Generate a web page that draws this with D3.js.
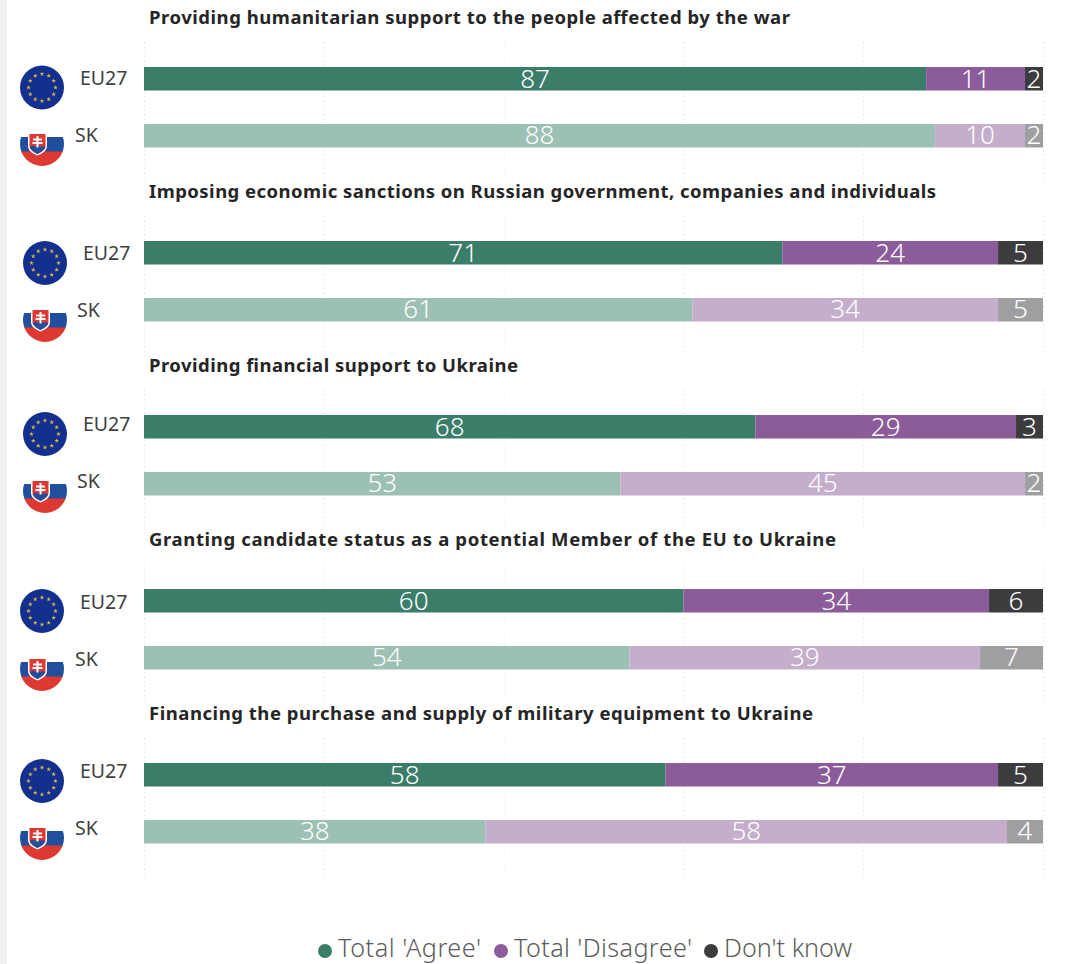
<!DOCTYPE html>
<html>
<head>
<meta charset="utf-8">
<script src="https://cdnjs.cloudflare.com/ajax/libs/d3/7.8.5/d3.min.js"></script>
<style>
html,body{margin:0;padding:0;background:#fff}
svg{display:block}
.title{font-family:"Noto Sans",sans-serif;font-weight:700;font-size:18.5px;fill:#252525}
.geo{font-family:"Noto Sans",sans-serif;font-size:19.5px;fill:#404040}
.val{font-family:"Noto Sans",sans-serif;font-weight:300;font-size:26px;text-anchor:middle;fill:#fff}
.leg{font-family:"Noto Sans",sans-serif;font-weight:300;font-size:25.2px;fill:#5c5c5c}
</style>
</head>
<body>
<svg id="chart" width="1068" height="964"></svg>
<script>
// Survey questions and results, in percent
const questions = [
  "Providing humanitarian support to the people affected by the war",
  "Imposing economic sanctions on Russian government, companies and individuals",
  "Providing financial support to Ukraine",
  "Granting candidate status as a potential Member of the EU to Ukraine",
  "Financing the purchase and supply of military equipment to Ukraine"
];
const geographies = ["EU27", "SK"];
const responses = ["Total 'Agree'", "Total 'Disagree'", "Don't know"];
const agreeEU = [87, 71, 68, 60, 58];
const disagreeEU = [11, 24, 29, 34, 37];
const unsureEU = [2, 5, 3, 6, 5];
const agreeSK = [88, 61, 53, 54, 38];
const disagreeSK = [10, 34, 45, 39, 58];
const unsureSK = [2, 5, 2, 7, 4];
const gridTicks = [0, 20, 40, 60, 80, 100];

// Colours per response: solid for EU27, pale for SK
const colours = {
  EU27: ["#3a7d69", "#8b5c99", "#3c3b3e"],
  SK: ["#9dc0b4", "#c5aecb", "#9f9fa1"]
};

// Hand placement of the flag and label in each block
const flagNudgeX = [0, 3, 3, 0, 0];
const euFlagY = [20.5, 22, 19, 22, 18];
const skFlagY = [20, 22, 19, 23, 18];
const euLabelY = [18, 19, 16, 20, 15];
const skLabelY = [18, 19, 16, 20, 15];

// Set widths for the text runs, so the lines keep their measure
const titleWidths = [641, 787, 369, 687, 664];
const legendWidths = [143, 178, 128];

const svg = d3.select("#chart");
svg.append("rect").attr("x", 0).attr("y", 0).attr("width", 7).attr("height", 964).attr("fill", "#f2f2f2");

const x = d3.scaleLinear().domain([0, 100]).range([144, 1043]);
const block = d3.scaleBand().domain(questions).range([42, 912]).paddingInner(0).paddingOuter(0);
const row = d3.scaleBand().domain(geographies).range([25, 105.5]).paddingInner(0.5877).paddingOuter(0);

const defs = svg.append("defs");
defs.append("clipPath").attr("id", "disc").append("circle").attr("r", 22);

function drawEU(g) {
  g.append("circle").attr("r", 22).attr("fill", "#13308f");
  const star = d3.symbol().type(d3.symbolStar).size(7)();
  g.selectAll("path.star").data(d3.range(12)).join("path")
    .attr("class", "star")
    .attr("d", star)
    .attr("fill", "#d9b645")
    .attr("transform", i => {
      const a = i * Math.PI / 6;
      return `translate(${13.5 * Math.sin(a)},${-13.5 * Math.cos(a)})`;
    });
}

function drawSK(g) {
  const inner = g.append("g").attr("clip-path", "url(#disc)");
  inner.append("rect").attr("x", -22).attr("y", -22).attr("width", 44).attr("height", 15).attr("fill", "#fff");
  inner.append("rect").attr("x", -22).attr("y", -7).attr("width", 44).attr("height", 15).attr("fill", "#1f4f9d");
  inner.append("rect").attr("x", -22).attr("y", 7.5).attr("width", 44).attr("height", 15).attr("fill", "#dd3831");
  // Coat of arms
  const arms = g.append("g").attr("transform", "translate(1,0)");
  arms.append("path").attr("d", "M-15,-11.5H4V2C4,7 -1,9.5 -5.5,11.5C-10,9.5 -15,7 -15,2Z").attr("fill", "#fff");
  arms.append("path").attr("d", "M-13.5,-10H2.5V2C2.5,6 -2,8 -5.5,10C-9,8 -13.5,6 -13.5,2Z").attr("fill", "#dd3831");
  arms.append("path").attr("d", "M-13,3C-11,1 -9,2 -8,3C-7,1 -4,1 -3,3C-1,2 1,2 2,3C1.5,6 -2,8 -5.5,10C-9,8 -12.5,6 -13,3Z").attr("fill", "#1f4f9d");
  arms.append("path").attr("d", "M-6.5,-8H-4.5V-5.5H-1V-3.5H-4.5V-2H-0.5V0H-4.5V3.5H-6.5V0H-10.5V-2H-6.5V-3.5H-10V-5.5H-6.5Z").attr("fill", "#fff");
}

questions.forEach((q, i) => {
  const top = block(q);
  const g = svg.append("g").attr("transform", `translate(0,${top})`);

  // Dotted vertical guides
  const axis = d3.axisBottom(x).tickValues(gridTicks).tickSize(140).tickFormat("");
  const ax = g.append("g").call(axis);
  ax.select(".domain").remove();
  ax.selectAll("line").attr("stroke", "#e6e6e6").attr("stroke-dasharray", "1.5 3");

  g.append("text").attr("class", "title").attr("x", 149).attr("y", -18)
    .attr("textLength", titleWidths[i]).attr("lengthAdjust", "spacing").text(q);

  const rows = [
    { geo: "EU27", vals: [agreeEU[i], disagreeEU[i], unsureEU[i]] },
    { geo: "SK", vals: [agreeSK[i], disagreeSK[i], unsureSK[i]] }
  ];
  rows.forEach((r, ri) => {
    const y0 = row(r.geo);
    let cum = 0;
    const segs = r.vals.map((v, k) => {
      const s = { v, k, start: cum, end: cum + v };
      cum += v;
      return s;
    });
    g.selectAll(`rect.s${ri}`).data(segs).join("rect")
      .attr("class", `s${ri}`)
      .attr("x", d => x(d.start))
      .attr("width", d => x(d.end) - x(d.start))
      .attr("y", y0)
      .attr("height", row.bandwidth())
      .attr("fill", d => colours[r.geo][d.k]);
    g.selectAll(`text.t${ri}`).data(segs).join("text")
      .attr("class", `val t${ri}`)
      .attr("x", d => (x(d.start) + x(d.end)) / 2)
      .attr("y", y0 + 20.5)
      .text(d => d.v);

    const flagY = y0 + (ri === 0 ? euFlagY[i] : skFlagY[i]);
    const flag = g.append("g").attr("transform", `translate(${42 + flagNudgeX[i]},${flagY})`);
    (ri === 0 ? drawEU : drawSK)(flag);
    g.append("text").attr("class", "geo")
      .attr("x", (ri === 0 ? 80 : 75) + (flagNudgeX[i] ? 3 : 0) - (ri === 1 && flagNudgeX[i] ? 1 : 0))
      .attr("y", y0 + (ri === 0 ? euLabelY[i] : skLabelY[i]))
      .text(r.geo);
  });
});

// Legend
const legendX = [325, 501, 711];
const legend = svg.append("g");
responses.forEach((name, k) => {
  legend.append("circle").attr("cx", legendX[k]).attr("cy", 951).attr("r", 7).attr("fill", colours.EU27[k]);
  legend.append("text").attr("class", "leg").attr("x", legendX[k] + 13).attr("y", 956.5)
    .attr("textLength", legendWidths[k]).attr("lengthAdjust", "spacing").text(name);
});
</script>
</body>
</html>
